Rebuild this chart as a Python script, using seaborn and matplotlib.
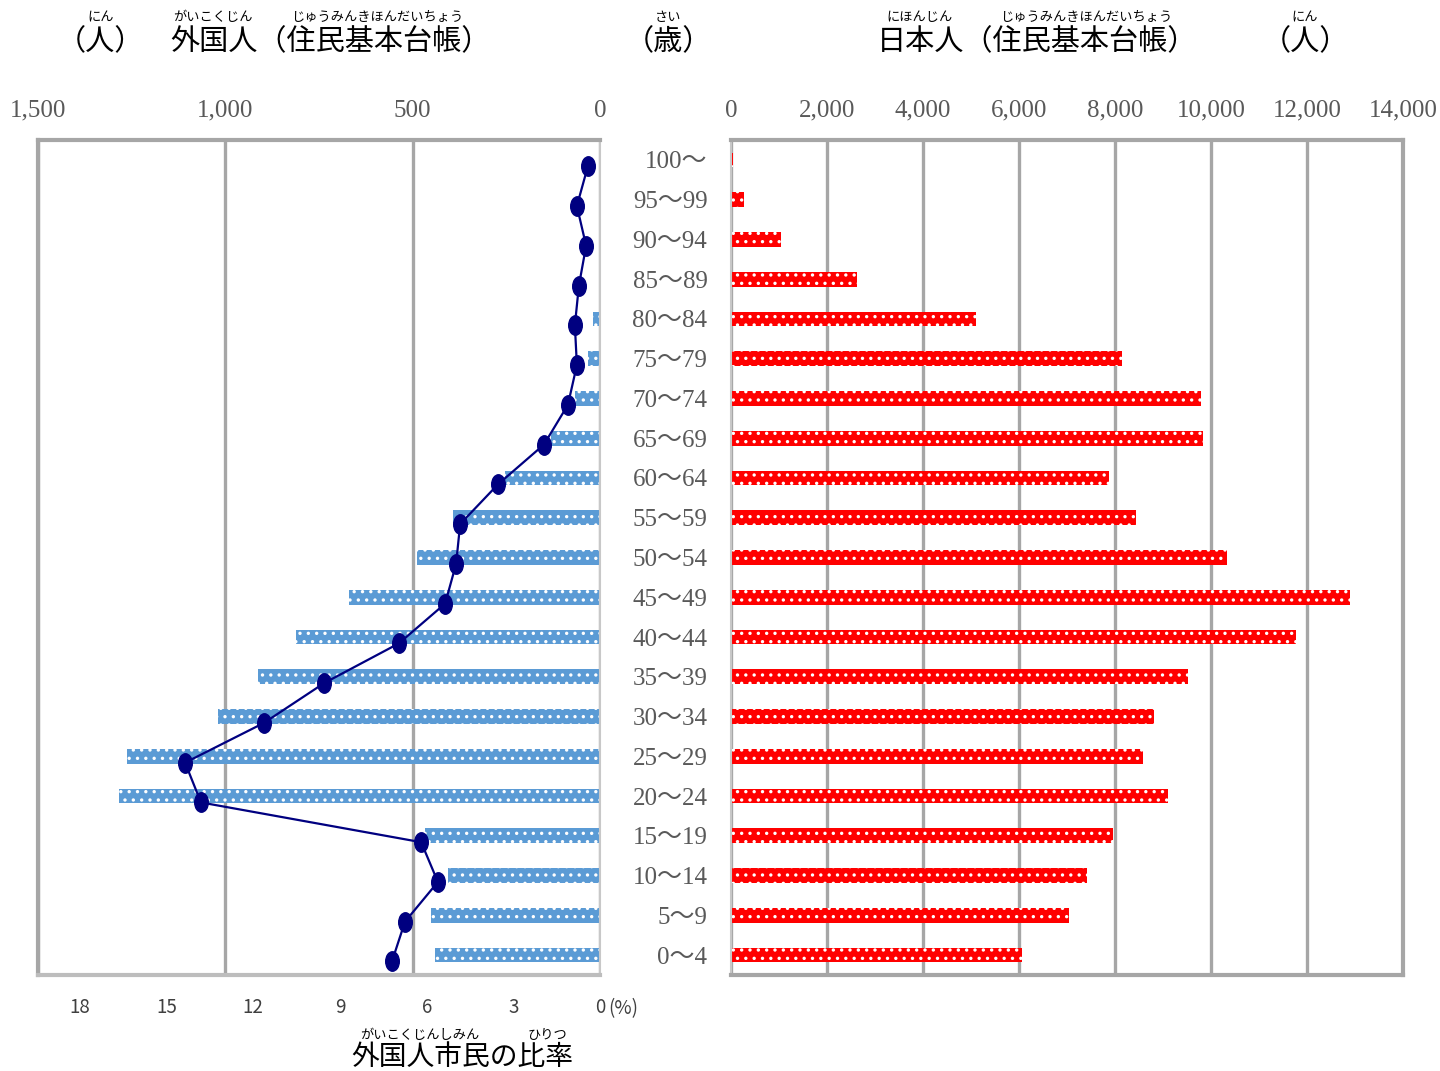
import numpy as np
import pandas as pd
import matplotlib
matplotlib.use("Agg")
import matplotlib.pyplot as plt
import seaborn as sns
from matplotlib.markers import MarkerStyle
from matplotlib.transforms import Affine2D

# age groups, top to bottom
ages = ['100～', '95～99', '90～94', '85～89', '80～84', '75～79', '70～74',
        '65～69', '60～64', '55～59', '50～54', '45～49', '40～44', '35～39',
        '30～34', '25～29', '20～24', '15～19', '10～14', '5～9', '0～4']

# foreign residents (people)
foreign = [1, 1, 2, 3, 19, 32, 67, 131, 254, 393, 489, 670, 812, 913,
           1020, 1263, 1284, 467, 406, 451, 441]

# Japanese residents (people)
japanese = [45, 270, 1045, 2625, 5095, 8155, 9795, 9826, 7884, 8436, 10332,
            12905, 11763, 9523, 8817, 8589, 9108, 7959, 7407, 7033, 6058]

# share of foreign residents (%)
ratio = [0.42, 0.80, 0.48, 0.73, 0.87, 0.80, 1.11, 1.94, 3.53, 4.84, 4.98,
         5.36, 6.96, 9.55, 11.63, 14.36, 13.81, 6.19, 5.61, 6.75, 7.20]

foreign_ticks = [1500, 1000, 500, 0]
japanese_ticks = [0, 2000, 4000, 6000, 8000, 10000, 12000, 14000]
ratio_ticks = [18, 15, 12, 9, 6, 3, 0]

df = pd.DataFrame({'age': ages, 'foreign': foreign,
                   'japanese': japanese, 'ratio': ratio})

sns.set_theme(style='white')
plt.rcParams['font.family'] = ['Noto Sans CJK JP', 'DejaVu Sans']
plt.rcParams['hatch.linewidth'] = 1.2

SERIF = ['Liberation Serif', 'Noto Sans CJK JP']
GRID = '#a6a6a6'
LIGHT = '#c8c8c8'
TXT = '#595959'

W, H = 1440, 1071
fig = plt.figure(figsize=(W / 100, H / 100), dpi=100)

def frac(x0, y0, x1, y1):
    return [x0 / W, 1 - y1 / H, (x1 - x0) / W, (y1 - y0) / H]

axL = fig.add_axes(frac(38, 140, 600, 975))
axR = fig.add_axes(frac(731, 140, 1403, 975))
axP = fig.add_axes(frac(38, 140, 600, 975), facecolor='none')

# left: foreign residents
sns.barplot(data=df, x='foreign', y='age', order=ages, ax=axL,
            color='#5b9bd5', saturation=1, width=0.37,
            edgecolor='white', linewidth=0, hatch='..')
axL.set_xlim(1500, 0)
axL.set_ylim(20.5, -0.5)
axL.xaxis.tick_top()
axL.set_xticks(foreign_ticks)
axL.set_xticklabels([f'{t:,}' for t in foreign_ticks], family=SERIF,
                    fontsize=18, color=TXT)
axL.tick_params(axis='x', length=0, pad=13)
axL.set_yticks([])
axL.set_xlabel('')
axL.set_ylabel('')
axL.grid(axis='x', color=GRID, linewidth=2.4)
axL.set_axisbelow(True)

# right: Japanese residents
sns.barplot(data=df, x='japanese', y='age', order=ages, ax=axR,
            color='#ff0000', saturation=1, width=0.37,
            edgecolor='white', linewidth=0, hatch='..')
axR.set_xlim(0, 14000)
axR.set_ylim(20.5, -0.5)
axR.xaxis.tick_top()
axR.set_xticks(japanese_ticks)
axR.set_xticklabels([f'{t:,}' for t in japanese_ticks], family=SERIF,
                    fontsize=18, color=TXT)
axR.tick_params(axis='x', length=0, pad=13)
axR.set_yticks(range(len(ages)))
axR.set_yticklabels(ages, family=SERIF, fontsize=18, color=TXT)
axR.tick_params(axis='y', length=0, pad=17)
axR.set_xlabel('')
axR.set_ylabel('')
axR.grid(axis='x', color=GRID, linewidth=2.4)
axR.set_axisbelow(True)

# ratio line on top of left panel
ell = MarkerStyle('o', transform=Affine2D().scale(0.7, 1.0))
axP.plot(df['ratio'], np.arange(len(ages)), color='#000080', linewidth=1.6,
         marker=ell, markersize=14, markerfacecolor='#000080',
         markeredgecolor='#000080')
axP.set_xlim(19.45, 0)
axP.set_ylim(20.34, -0.66)
axP.set_yticks([])
axP.set_xticks(ratio_ticks)
axP.set_xticklabels([str(t) for t in ratio_ticks], fontsize=13.5,
                    color='#404040')
axP.tick_params(axis='x', length=0, pad=16)
axP.annotate('(%)', xy=(1, 0), xycoords='axes fraction', xytext=(6, -24),
             textcoords='offset points', ha='left', va='center',
             fontsize=13.5, color='#404040')
for s in axP.spines.values():
    s.set_visible(False)

# frames
for ax, thin in ((axL, 'right'), (axR, 'left')):
    for name, s in ax.spines.items():
        s.set_visible(True)
        if name == thin:
            s.set_color(LIGHT)
            s.set_linewidth(1.5)
        else:
            s.set_color(GRID)
            s.set_linewidth(3)
axL.spines['bottom'].set_color('#bdbdbd')

# titles with ruby
def title(x, y, s, size=21):
    fig.text(x / W, 1 - y / H, s, ha='center', va='center', fontsize=size,
             color='black')

def ruby(x, y, s):
    fig.text(x / W, 1 - y / H, s, ha='center', va='center', fontsize=9.5,
             color='black')

title(100, 42, '（人）')
ruby(101, 18, 'にん')
title(330, 42, '外国人（住民基本台帳）')
ruby(213, 18, 'がいこくじん')
ruby(377, 18, 'じゅうみんきほんだいちょう')
title(668, 42, '（歳）')
ruby(668, 18, 'さい')
title(1037, 42, '日本人（住民基本台帳）')
ruby(920, 18, 'にほんじん')
ruby(1086, 18, 'じゅうみんきほんだいちょう')
title(1305, 42, '（人）')
ruby(1305, 18, 'にん')
title(462, 1057, '外国人市民の比率', size=20)
ruby(420, 1035, 'がいこくじんしみん')
ruby(547, 1035, 'ひりつ')

fig.savefig('out.png', dpi=100)
